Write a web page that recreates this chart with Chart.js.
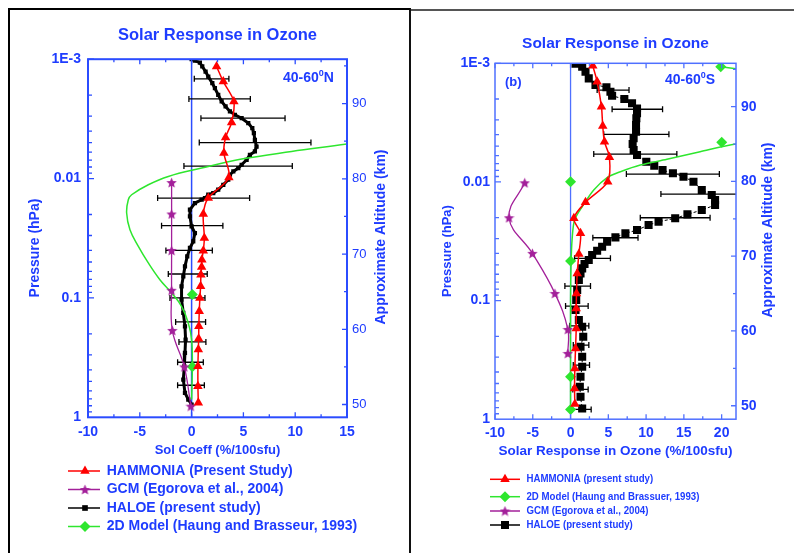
<!DOCTYPE html>
<html>
<head>
<meta charset="utf-8">
<script src="https://cdn.jsdelivr.net/npm/chart.js"></script>
<style>
    html, body { margin: 0; padding: 0; background: #fff; }
    body { width: 794px; height: 553px; position: relative; overflow: hidden; }
    #frameL { position: absolute; left: 8px; top: 8px; width: 403px; height: 560px;
              border-left: 2px solid #000; border-top: 2px solid #000; border-right: 2px solid #111; box-sizing: border-box; }
    #frameR { position: absolute; left: 411px; top: 9px; width: 383px; height: 2px; background: #555; }
    canvas { position: absolute; top: 0; }
    #chartN { left: 0; }
    #chartS { left: 411px; }
</style>
</head>
<body>
<div id="frameL"></div>
<div id="frameR"></div>
<canvas id="chartN" width="409" height="553"></canvas>
<canvas id="chartS" width="383" height="553"></canvas>
<script>
// axis labels
const pressureTicks = [0.001, 0.01, 0.1, 1];
const pressureLabels = ["1E-3", "0.01", "0.1", "1"];

// ---- panel a : 40-60N  (pressure in hPa, response in %/100sfu) ----
const hammoniaN_p = [0.00115, 0.00154, 0.00226, 0.00339, 0.00453, 0.00612, 0.0098, 0.01455, 0.0198, 0.0315, 0.0402, 0.0478, 0.055, 0.0638, 0.080, 0.100, 0.129, 0.173, 0.220, 0.271, 0.373, 0.550, 0.757];
const hammoniaN_x = [2.41, 3.06, 4.08, 3.86, 3.28, 3.12, 3.60, 1.61, 1.13, 1.23, 1.13, 0.99, 0.97, 0.90, 0.87, 0.80, 0.74, 0.70, 0.68, 0.65, 0.61, 0.61, 0.65];

const gcmN_p = [0.0108, 0.0198, 0.040, 0.0863, 0.187, 0.378, 0.807];
const gcmN_x = [-1.93, -1.93, -1.93, -1.93, -1.86, -0.70, -0.07];

const haloeN_p = [0.001, 0.00103, 0.00107, 0.00115, 0.00127, 0.0014, 0.00159, 0.00175, 0.00199, 0.00226, 0.00249, 0.00274, 0.00292, 0.00312, 0.00343, 0.00378, 0.00416, 0.00473, 0.00539, 0.00593, 0.00632, 0.00696, 0.00766, 0.00817, 0.00872, 0.00929, 0.01023, 0.01127, 0.0124, 0.01322, 0.01366, 0.01456, 0.01504, 0.01603, 0.01824, 0.02076, 0.02517, 0.02858, 0.0336, 0.03815, 0.04487, 0.05441, 0.0659, 0.08, 0.1033, 0.1335, 0.1729, 0.2234, 0.2886, 0.3736, 0.4828, 0.6237, 0.7096, 0.7815];
const haloeN_x = [0, 0.32, 0.80, 1.03, 1.35, 1.61, 2.0, 2.25, 2.57, 2.90, 3.28, 3.70, 4.18, 4.83, 5.47, 5.86, 6.01, 6.11, 6.27, 6.11, 5.63, 5.31, 4.83, 4.51, 4.03, 3.70, 3.54, 3.06, 2.57, 2.09, 1.61, 1.29, 0.97, 0.32, -0.16, -0.16, 0, 0.32, 0.16, -0.16, -0.42, -0.64, -0.80, -0.97, -0.97, -0.80, -0.64, -0.58, -0.64, -0.70, -0.80, -0.64, -0.32, 0];

const haloeErrN_p = [0.00146, 0.00215, 0.00312, 0.00499, 0.00786, 0.01456, 0.02483, 0.040, 0.063, 0.100, 0.1588, 0.2335, 0.3459, 0.5388];
const haloeErrN_lo = [0.26, -0.26, 0.90, 0.74, -0.74, -3.28, -2.90, -2.48, -2.25, -2.09, -1.54, -1.22, -1.35, -1.35];
const haloeErrN_hi = [3.60, 5.67, 9.02, 11.52, 9.72, 5.60, 3.02, 2.00, 1.51, 1.29, 1.35, 1.38, 1.13, 1.23];

const model2dN_p = [0.00464, 0.00511, 0.00593, 0.00687, 0.00817, 0.0096, 0.01127, 0.01366, 0.01504, 0.01944, 0.02683, 0.037, 0.0509, 0.0703, 0.0908, 0.1176, 0.1619, 0.2234, 0.3736, 0.7096];
const model2dN_x = [18, 15.13, 9.65, 4.83, 0.97, -2.25, -4.18, -5.79, -6.11, -6.27, -5.95, -5.14, -4.18, -3.06, -1.93, -0.97, -0.32, 0, 0.07, 0];
const model2dPtsN_p = [0.0938, 0.378];
const model2dPtsN_x = [0.07, 0.07];

// ---- panel b : 40-60S ----
const hammoniaS_p = [0.00105, 0.00143, 0.00232, 0.00338, 0.00458, 0.0062, 0.00996, 0.01486, 0.02027, 0.02713, 0.04055, 0.059, 0.087, 0.1164, 0.1716, 0.253, 0.373, 0.55, 0.746];
const hammoniaS_x = [2.94, 3.52, 4.09, 4.26, 4.49, 5.15, 4.92, 1.98, 0.44, 1.32, 1.10, 0.88, 0.79, 0.75, 0.75, 0.66, 0.57, 0.53, 0.57];

const gcmS_p = [0.01016, 0.02004, 0.040, 0.087, 0.175, 0.279];
const gcmS_x = [-6.07, -8.14, -5.05, -2.07, -0.36, -0.36];

const haloeS_p = [0.00101, 0.00107, 0.00118, 0.00134, 0.00152, 0.00159, 0.00174, 0.00188, 0.002, 0.00217, 0.0024, 0.00264, 0.00291, 0.00331, 0.00377, 0.00429, 0.00479, 0.00538, 0.00593, 0.00676, 0.0073, 0.00794, 0.00846, 0.00904, 0.00996, 0.0117, 0.0129, 0.01421, 0.01566, 0.01726, 0.01876, 0.02027, 0.02166, 0.02309, 0.02545, 0.02713, 0.02932, 0.03194, 0.03519, 0.03803, 0.04134, 0.04555, 0.04923, 0.05351, 0.059, 0.06718, 0.0816, 0.099, 0.1203, 0.146, 0.1663, 0.202, 0.2453, 0.2978, 0.3615, 0.4391, 0.5331, 0.6474, 0.811];
const haloeS_x = [0.66, 1.54, 1.98, 2.41, 3.30, 4.75, 5.28, 5.50, 7.12, 8.14, 8.80, 8.80, 8.71, 8.67, 8.67, 8.35, 8.22, 8.35, 8.80, 10.03, 11.08, 12.18, 13.55, 14.95, 16.27, 17.37, 18.69, 19.13, 19.13, 17.37, 15.47, 13.85, 11.65, 10.33, 8.80, 7.26, 5.94, 4.84, 4.18, 3.52, 2.86, 2.41, 1.85, 1.54, 1.32, 1.10, 0.88, 0.75, 0.66, 1.10, 1.54, 1.68, 1.32, 1.54, 1.54, 1.32, 1.23, 1.32, 1.54];

const haloeErrS_p = [0.00168, 0.00244, 0.00397, 0.00582, 0.00858, 0.01265, 0.02004, 0.02955, 0.04408, 0.0755, 0.1113, 0.1632, 0.2373, 0.3499, 0.5607, 0.8267];
const haloeErrS_lo = [3.52, 5.50, 4.39, 3.07, 7.39, 11.96, 9.23, 2.95, 0.53, -0.75, -0.66, -0.09, 0.36, 0.36, 0.30, 0.22];
const haloeErrS_hi = [7.74, 12.18, 13.02, 14.07, 19.70, 25, 18.47, 8.93, 5.28, 2.64, 2.33, 2.42, 2.42, 2.51, 2.33, 2.73];

// null breaks the line (part of the curve runs off the right edge)
const model2dS_p = [0.00107, 0.0013, null, 0.0042, 0.00479, 0.00556, 0.00645, 0.0072, 0.0082, 0.00918, 0.0117, 0.01618, 0.02095, 0.0309, 0.0483, 0.099, 0.827];
const model2dS_x = [19.88, 30, 30, 30, 21.9, 17.15, 12.76, 9.23, 6.60, 4.84, 3.07, 1.54, 0.53, 0.2, 0.07, 0, 0];
const model2dPtsS_p = [0.00107, 0.00464, 0.00996, 0.0465, 0.4391, 0.827];
const model2dPtsS_x = [19.88, 20.01, 0, 0, 0, 0];

const legendN = ["HAMMONIA (Present Study)", "GCM (Egorova et al., 2004)", "HALOE (present study)", "2D Model (Haung and Brasseur, 1993)"];
const legendS = ["HAMMONIA (present study)", "2D Model (Haung and Brassuer, 1993)", "GCM (Egorova et al., 2004)", "HALOE (present study)"];

const FONT = '"Liberation Sans", Arial, Helvetica, sans-serif';
const BLUE = "#1e3cff";
const RED = "#ff0000";
const GREEN = "#2ee62e";
const PURPLE = "#a3209a";

function pts(xs, ps) {
    return xs.map((x, i) => ({ x: x, y: ps[i] }));
}

function pressureLabel(v) {
    const i = pressureTicks.findIndex(t => Math.abs(Math.log10(v) - Math.log10(t)) < 1e-6);
    return i >= 0 ? pressureLabels[i] : "";
}

function starImage(color, size) {
    const c = document.createElement("canvas");
    c.width = c.height = size;
    const g = c.getContext("2d");
    const r = size / 2, ri = r * 0.45;
    g.beginPath();
    for (let i = 0; i < 10; i++) {
        const a = -Math.PI / 2 + i * Math.PI / 5;
        const rr = i % 2 ? ri : r;
        g.lineTo(r + rr * Math.cos(a), r + rr * Math.sin(a) + 0.5);
    }
    g.closePath();
    g.fillStyle = color;
    g.fill();
    return c;
}
const starPurple = starImage(PURPLE, 11);

function drawMarker(ctx, style, x, y, r, color) {
    if (typeof style === "object") {
        ctx.drawImage(style, x - style.width / 2, y - style.height / 2);
        return;
    }
    ctx.fillStyle = color;
    ctx.beginPath();
    if (style === "triangle") {
        ctx.moveTo(x, y - r);
        ctx.lineTo(x + r * Math.sin(2 * Math.PI / 3), y + r / 2);
        ctx.lineTo(x - r * Math.sin(2 * Math.PI / 3), y + r / 2);
    } else if (style === "rectRot") {
        ctx.moveTo(x - r, y); ctx.lineTo(x, y - r); ctx.lineTo(x + r, y); ctx.lineTo(x, y + r);
    } else {
        const s = r * Math.SQRT1_2;
        ctx.rect(x - s, y - s, 2 * s, 2 * s);
    }
    ctx.closePath();
    ctx.fill();
}

// axis frame, inward ticks, zero line, error bars, side titles and legend
function makeDecor(cfg) {
    return {
        id: "decor",
        beforeDatasetsDraw(chart) {
            const { ctx, chartArea: a, scales } = chart;
            const x = scales.x, y = scales.y;
            ctx.save();
            ctx.beginPath();
            ctx.rect(a.left, a.top, a.right - a.left, a.bottom - a.top);
            ctx.clip();
            const x0 = x.getPixelForValue(0);
            ctx.strokeStyle = cfg.axis;
            ctx.lineWidth = cfg.zeroWidth;
            ctx.beginPath();
            ctx.moveTo(x0, a.top);
            ctx.lineTo(x0, a.bottom);
            ctx.stroke();

            ctx.strokeStyle = "#000";
            ctx.lineWidth = 1.3;
            cfg.errP.forEach((p, i) => {
                const py = y.getPixelForValue(p);
                const lo = x.getPixelForValue(cfg.errLo[i]);
                const hi = x.getPixelForValue(cfg.errHi[i]);
                ctx.beginPath();
                ctx.moveTo(lo, py); ctx.lineTo(hi, py);
                ctx.moveTo(lo, py - 3); ctx.lineTo(lo, py + 3);
                ctx.moveTo(hi, py - 3); ctx.lineTo(hi, py + 3);
                ctx.stroke();
            });
            ctx.restore();
        },
        afterDraw(chart) {
            const { ctx, chartArea: a, scales } = chart;
            const x = scales.x, y = scales.y, y2 = scales.y2;
            ctx.save();
            ctx.strokeStyle = cfg.axis;
            ctx.lineWidth = cfg.axisWidth;
            ctx.strokeRect(a.left, a.top, a.right - a.left, a.bottom - a.top);

            ctx.lineWidth = 1.3;
            ctx.beginPath();
            for (let v = -10; v <= x.max + 1e-9; v += 2.5) {
                const px = x.getPixelForValue(v);
                const len = Math.abs(v % 5) < 1e-9 ? 5 : 3;
                ctx.moveTo(px, a.bottom); ctx.lineTo(px, a.bottom - len);
                ctx.moveTo(px, a.top); ctx.lineTo(px, a.top + len);
            }
            for (let e = -3; e < 0; e++) {
                for (let m = 1; m < 10; m++) {
                    const py = y.getPixelForValue(m * Math.pow(10, e));
                    ctx.moveTo(a.left, py); ctx.lineTo(a.left + (m === 1 ? 6 : 4), py);
                }
            }
            for (let h = 50; h <= 95; h += 5) {
                const py = y2.getPixelForValue(h);
                ctx.moveTo(a.right, py); ctx.lineTo(a.right - (h % 10 === 0 ? 5 : 3), py);
            }
            ctx.stroke();

            ctx.fillStyle = BLUE;
            ctx.textAlign = "center";
            ctx.textBaseline = "middle";
            cfg.sideTitles.forEach(t => {
                ctx.save();
                ctx.translate(t.x, t.y);
                ctx.rotate(-Math.PI / 2);
                ctx.font = t.font;
                ctx.fillText(t.text, 0, 0);
                ctx.restore();
            });

            // latitude band label with superscript degree
            const ins = cfg.inset;
            ctx.textAlign = "left";
            ctx.textBaseline = "alphabetic";
            ctx.font = "bold 14px " + FONT;
            ctx.fillText("40-60", ins.x, ins.y);
            let w = ctx.measureText("40-60").width;
            ctx.font = "bold 9px " + FONT;
            ctx.fillText("0", ins.x + w, ins.y - 6);
            w += ctx.measureText("0").width;
            ctx.font = "bold 14px " + FONT;
            ctx.fillText(ins.tail, ins.x + w, ins.y);
            if (cfg.tag) {
                ctx.font = "bold 13px " + FONT;
                ctx.fillText(cfg.tag.text, cfg.tag.x, cfg.tag.y);
            }

            // legend
            const lg = cfg.legend;
            lg.items.forEach((it, i) => {
                const ly = lg.rows[i];
                ctx.strokeStyle = it.color;
                ctx.lineWidth = 1.5;
                ctx.beginPath();
                ctx.moveTo(lg.x0, ly); ctx.lineTo(lg.x1, ly);
                ctx.stroke();
                drawMarker(ctx, it.style, lg.mx, ly, it.r, it.color);
                ctx.font = lg.font;
                ctx.fillStyle = BLUE;
                ctx.textBaseline = "middle";
                const tw = ctx.measureText(it.label).width;
                ctx.fillText(it.label, lg.tx, ly, tw * lg.squeeze);
            });
            ctx.restore();
        }
    };
}

function lineSet(label, xs, ps, o) {
    return Object.assign({
        label: label,
        data: pts(xs, ps),
        showLine: true,
        borderWidth: 1.5,
        pointBorderWidth: 0,
        tension: 0.4,
        fill: false
    }, o);
}

function scalesFor(p) {
    const tickFont = { family: FONT, size: 14, weight: "bold" };
    return {
        x: {
            type: "linear", position: "bottom", min: -10, max: p.xMax,
            grid: { display: false, drawTicks: false }, border: { display: false },
            ticks: { stepSize: 5, includeBounds: false, autoSkip: false, maxRotation: 0, color: BLUE, font: tickFont, padding: 6 },
            title: { display: true, text: p.xTitle, color: BLUE, font: { family: FONT, size: p.xTitleSize, weight: "bold" }, padding: { top: 0, bottom: 4.4 } },
            afterFit: s => { s.height = 45; }
        },
        y: {
            type: "logarithmic", position: "left", reverse: true, min: 0.001, max: 1,
            grid: { display: false, drawTicks: false }, border: { display: false },
            ticks: { autoSkip: false, callback: v => pressureLabel(v), color: BLUE, font: tickFont, padding: p.yPad },
            afterFit: s => { s.width = p.yWidth; }
        },
        y2: {
            type: "linear", position: "right", min: p.altMin, max: p.altMax,
            grid: { display: false, drawTicks: false }, border: { display: false },
            ticks: { stepSize: 10, includeBounds: false, color: BLUE, font: p.altFont, padding: 5 },
            afterFit: s => { s.width = p.y2Width; }
        }
    };
}

function baseOptions(p) {
    return {
        animation: false,
        responsive: false,
        layout: { padding: { left: 0, right: 0, top: 0, bottom: p.bottomPad } },
        plugins: {
            legend: { display: false },
            tooltip: { enabled: false },
            title: {
                display: true, text: "Solar Response in Ozone", color: BLUE, fullSize: false,
                font: { family: FONT, size: p.titleSize, weight: "bold" },
                padding: { top: p.titleTop, bottom: p.titleBottom }
            }
        },
        scales: scalesFor(p)
    };
}

function renderNorth() {
    const ctx = document.getElementById("chartN");
    new Chart(ctx, {
        type: "scatter",
        data: {
            datasets: [
                lineSet(legendN[0], hammoniaN_x, hammoniaN_p, { borderColor: RED, backgroundColor: RED, pointStyle: "triangle", pointRadius: 5.5, tension: 0.3, order: 0 }),
                lineSet(legendN[1], gcmN_x, gcmN_p, { borderColor: PURPLE, backgroundColor: PURPLE, pointStyle: starPurple, pointRadius: 5, borderWidth: 1.3, order: 1 }),
                lineSet(legendN[3], model2dN_x, model2dN_p, { borderColor: GREEN, backgroundColor: GREEN, pointRadius: 0, order: 2 }),
                { label: "2D points", data: pts(model2dPtsN_x, model2dPtsN_p), showLine: false, pointStyle: "rectRot", pointRadius: 5.5, backgroundColor: GREEN, pointBorderWidth: 0, order: 2 },
                lineSet(legendN[2], haloeN_x, haloeN_p, { borderColor: "#000", backgroundColor: "#000", pointStyle: "rect", pointRadius: 3, borderWidth: 3, tension: 0, order: 3 })
            ]
        },
        options: baseOptions({
            xMax: 15, xTitle: "Sol Coeff (%/100sfu)", xTitleSize: 13, yPad: 7, yWidth: 88, y2Width: 62,
            altMin: 48.3, altMax: 95.9, altFont: { family: FONT, size: 13 },
            bottomPad: 90.7, titleSize: 16.5, titleTop: 26, titleBottom: 13.4
        }),
        plugins: [makeDecor({
            axis: "#2b4cff", axisWidth: 2, zeroWidth: 1.5,
            errP: haloeErrN_p, errLo: haloeErrN_lo, errHi: haloeErrN_hi,
            sideTitles: [
                { text: "Pressure (hPa)", x: 35, y: 248, font: "bold 14px " + FONT },
                { text: "Approximate Altitude (km)", x: 381.5, y: 237, font: "bold 14px " + FONT }
            ],
            inset: { x: 283, y: 81.5, tail: "N" },
            legend: {
                x0: 68, x1: 100, mx: 85, tx: 106.7, rows: [471, 489.5, 508, 526.5],
                font: "bold 14px " + FONT, squeeze: 1,
                items: [
                    { label: legendN[0], color: RED, style: "triangle", r: 5.5 },
                    { label: legendN[1], color: PURPLE, style: starPurple, r: 5 },
                    { label: legendN[2], color: "#000", style: "rect", r: 4 },
                    { label: legendN[3], color: GREEN, style: "rectRot", r: 5.5 }
                ]
            }
        })]
    });
}

function renderSouth() {
    const ctx = document.getElementById("chartS");
    new Chart(ctx, {
        type: "scatter",
        data: {
            datasets: [
                lineSet(legendS[0], hammoniaS_x, hammoniaS_p, { borderColor: RED, backgroundColor: RED, pointStyle: "triangle", pointRadius: 5.5, tension: 0.3, order: 0 }),
                lineSet(legendS[2], gcmS_x, gcmS_p, { borderColor: PURPLE, backgroundColor: PURPLE, pointStyle: starPurple, pointRadius: 5, borderWidth: 1.3, order: 1 }),
                lineSet(legendS[1], model2dS_x, model2dS_p, { borderColor: GREEN, backgroundColor: GREEN, pointRadius: 0, tension: 0.3, order: 2 }),
                { label: "2D points", data: pts(model2dPtsS_x, model2dPtsS_p), showLine: false, pointStyle: "rectRot", pointRadius: 5.5, backgroundColor: GREEN, pointBorderWidth: 0, order: 2 },
                lineSet(legendS[3], haloeS_x, haloeS_p, { borderColor: "#000", backgroundColor: "#000", pointStyle: "rect", pointRadius: 5.7, borderWidth: 1, borderDash: [3, 2], tension: 0, order: 3 })
            ]
        },
        options: baseOptions({
            xMax: 21.9, xTitle: "Solar Response in Ozone (%/100sfu)", xTitleSize: 13.5, yPad: 5, yWidth: 84, y2Width: 58,
            altMin: 48.2, altMax: 95.8, altFont: { family: FONT, size: 14, weight: "bold" },
            bottomPad: 88.8, titleSize: 15.5, titleTop: 34, titleBottom: 10.7
        }),
        plugins: [makeDecor({
            axis: "#4f70ff", axisWidth: 1.5, zeroWidth: 1.3,
            errP: haloeErrS_p, errLo: haloeErrS_lo, errHi: haloeErrS_hi,
            sideTitles: [
                { text: "Pressure (hPa)", x: 36.5, y: 251, font: "bold 13px " + FONT },
                { text: "Approximate Altitude (km)", x: 357, y: 230, font: "bold 14px " + FONT }
            ],
            inset: { x: 254, y: 83.5, tail: "S" },
            tag: { text: "(b)", x: 94, y: 86 },
            legend: {
                x0: 79, x1: 109, mx: 94, tx: 115.5, rows: [479.3, 496.7, 511, 525],
                font: "bold 11.5px " + FONT, squeeze: 0.84,
                items: [
                    { label: legendS[0], color: RED, style: "triangle", r: 5.5 },
                    { label: legendS[1], color: GREEN, style: "rectRot", r: 5.5 },
                    { label: legendS[2], color: PURPLE, style: starPurple, r: 5 },
                    { label: legendS[3], color: "#000", style: "rect", r: 5.7 }
                ]
            }
        })]
    });
}

renderNorth();
renderSouth();
</script>
</body>
</html>
